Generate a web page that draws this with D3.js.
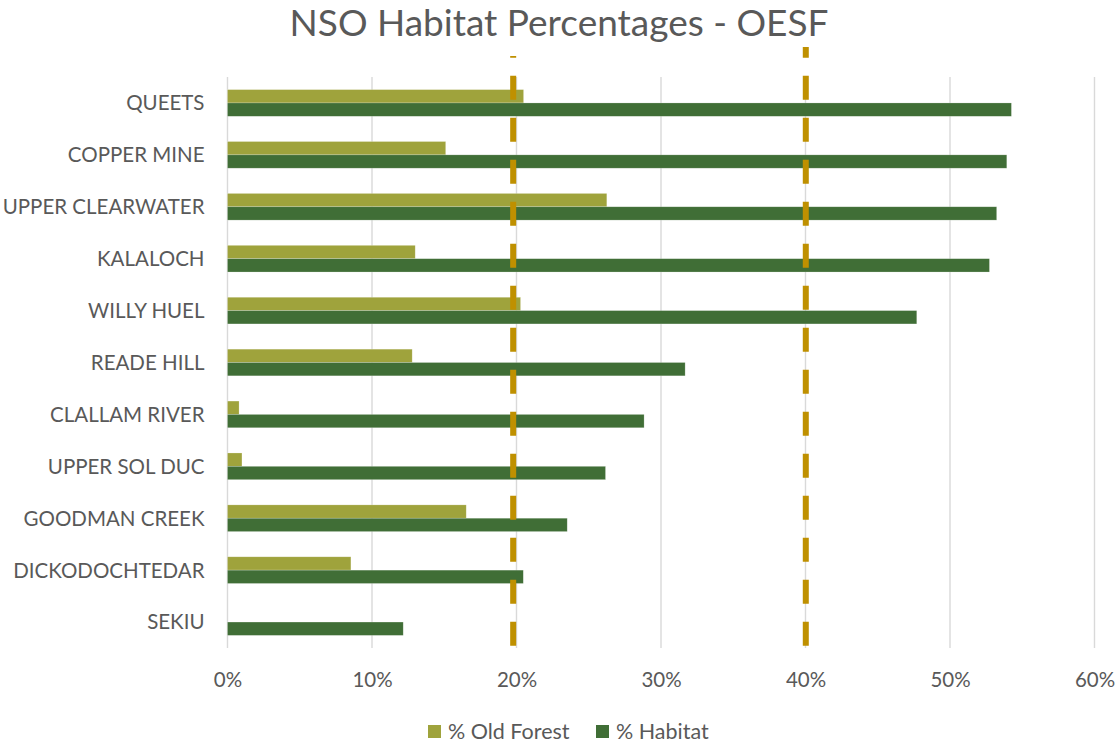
<!DOCTYPE html>
<html>
<head>
<meta charset="utf-8">
<script src="https://cdn.jsdelivr.net/npm/d3@7"></script>
<style>
  html, body { margin: 0; padding: 0; background: #ffffff; }
  svg text { font-family: "Lato", "Open Sans", sans-serif; fill: #595959; }
</style>
</head>
<body>
<svg id="chart" width="1117" height="744"></svg>
<script>
// Management units, top to bottom
const units = [
  "QUEETS", "COPPER MINE", "UPPER CLEARWATER", "KALALOCH", "WILLY HUEL",
  "READE HILL", "CLALLAM RIVER", "UPPER SOL DUC", "GOODMAN CREEK",
  "DICKODOCHTEDAR", "SEKIU"
];
// Share of each unit in old forest and in NSO habitat (fractions)
const oldForest = [0.2049, 0.1510, 0.2625, 0.1299, 0.2028, 0.1278, 0.0080, 0.0100, 0.1652, 0.0854, 0.0000];
const habitat   = [0.5425, 0.5393, 0.5323, 0.5273, 0.4770, 0.3167, 0.2883, 0.2616, 0.2351, 0.2047, 0.1216];
const seriesNames = ["% Old Forest", "% Habitat"];
const seriesColors = ["#9fa33c", "#406e36"];
// Threshold markers
const thresholds = [0.1977, 0.4002];
const xTicks = [0, 0.1, 0.2, 0.3, 0.4, 0.5, 0.6];

const svg = d3.select("#chart");
const plot = { left: 227.5, right: 1094.5, top: 77, bottom: 648 };

const x = d3.scaleLinear().domain([0, 0.6]).range([plot.left, plot.right]);
const y = d3.scaleBand().domain(units).range([plot.top, plot.bottom])
  .paddingInner(0.486).paddingOuter(0.243);
const ySub = d3.scaleBand().domain(seriesNames).range([0, y.bandwidth()]);

// Title
svg.append("text")
  .attr("x", 559).attr("y", 36)
  .attr("text-anchor", "middle")
  .style("font-size", "37px")
  .text("NSO Habitat Percentages - OESF");

// Vertical gridlines
svg.append("g").selectAll("line").data(xTicks).join("line")
  .attr("x1", d => x(d)).attr("x2", d => x(d))
  .attr("y1", plot.top).attr("y2", plot.bottom)
  .attr("stroke", "#d9d9d9").attr("stroke-width", 1.4);

// X tick labels
const xAxis = d3.axisBottom(x).tickValues(xTicks).tickFormat(d3.format(".0%")).tickSize(0).tickPadding(0);
const gx = svg.append("g").attr("transform", `translate(0, ${plot.bottom + 38.5})`).call(xAxis);
gx.select(".domain").remove();
gx.selectAll("text").attr("dy", 0).attr("y", 0)
  .style("font-size", "20.5px").style("font-family", "Lato, sans-serif").attr("fill", "#595959");

// Category labels
const yAxis = d3.axisLeft(y).tickSize(0).tickPadding(0);
const gy = svg.append("g").attr("transform", `translate(${plot.left - 23}, 0)`).call(yAxis);
gy.select(".domain").remove();
gy.selectAll("text").attr("dy", "0.36em")
  .style("font-size", "20.5px").style("font-family", "Lato, sans-serif").attr("fill", "#595959");

// Bars
const rows = units.map((u, i) => ({ unit: u, values: [oldForest[i], habitat[i]] }));
const groups = svg.append("g").selectAll("g").data(rows).join("g")
  .attr("transform", d => `translate(0, ${y(d.unit)})`);
groups.selectAll("rect")
  .data(d => d.values.map((v, k) => ({ series: seriesNames[k], value: v, color: seriesColors[k] })))
  .join("rect")
  .attr("x", x(0))
  .attr("y", d => ySub(d.series))
  .attr("width", d => x(d.value) - x(0))
  .attr("height", ySub.bandwidth())
  .attr("fill", d => d.color)
  .attr("stroke", "rgba(255,255,255,0.35)")
  .attr("stroke-width", 0.6);

// Dashed threshold lines, drawn upward from the bottom of the plot
const lineBottom = plot.bottom - 2.3;
const lineTop = [56, 47];
svg.append("g").selectAll("line").data(thresholds).join("line")
  .attr("x1", d => x(d)).attr("x2", d => x(d))
  .attr("y1", lineBottom).attr("y2", (d, i) => lineTop[i])
  .attr("stroke", "#bf9000").attr("stroke-width", 6)
  .attr("stroke-dasharray", "24 18");

// Legend
const legend = svg.append("g");
const legendX = [428, 596];
seriesNames.forEach((name, i) => {
  legend.append("rect")
    .attr("x", legendX[i]).attr("y", 725)
    .attr("width", 13).attr("height", 13)
    .attr("fill", seriesColors[i]);
  legend.append("text")
    .attr("x", legendX[i] + 20).attr("y", 738.5)
    .style("font-size", "21.5px")
    .text(name);
});
</script>
</body>
</html>
